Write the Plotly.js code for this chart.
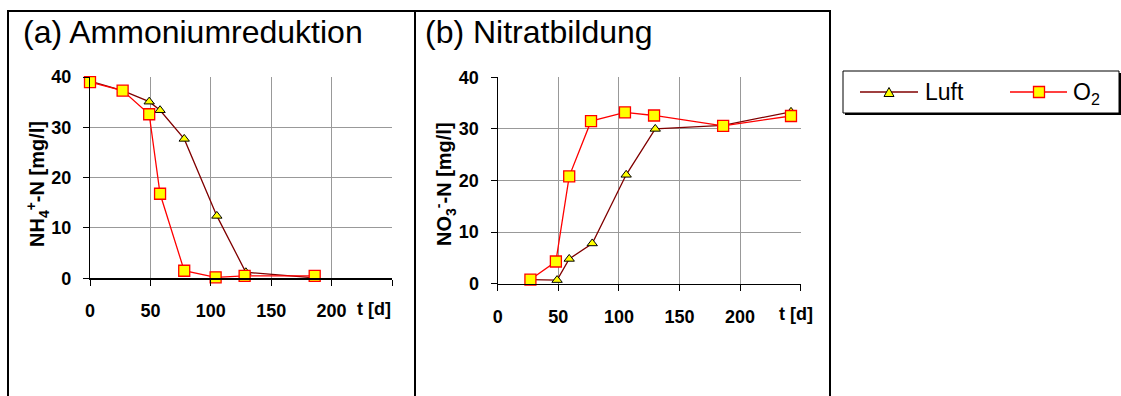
<!DOCTYPE html>
<html><head><meta charset="utf-8">
<script src="https://cdn.plot.ly/plotly-3.0.1.min.js"></script>
<style>html,body{margin:0;padding:0;background:#fff}#chart{width:1121px;height:396px}</style>
</head><body><div id="chart"></div>
<script>
// ---- data ----
const ammonLuftT = [0, 27, 49, 58, 78, 105, 129, 186];
const ammonLuftV = [39.2, 37.3, 35.1, 33.4, 27.7, 12.4, 1.2, 0.1];
const ammonO2T   = [0, 27, 49, 58, 78, 104, 128, 186];
const ammonO2V   = [39.0, 37.3, 32.6, 16.8, 1.5, 0.2, 0.5, 0.5];
const nitratLuftT = [27, 49, 59, 78, 106, 130, 186, 242];
const nitratLuftV = [0.8, 0.7, 4.8, 7.8, 21.1, 30.0, 30.7, 33.3];
const nitratO2T   = [27, 48, 59, 77, 105, 129, 186, 242];
const nitratO2V   = [0.8, 4.3, 20.8, 31.5, 33.2, 32.6, 30.6, 32.5];
const xTickVals = [0, 50, 100, 150, 200, 250];
const xTickText = ['0', '50', '100', '150', '200', ' '];
const yTickVals = [0, 10, 20, 30, 40];
const seriesNames = ['Luft', 'O<sub>2</sub>'];
const panelTitles = ['(a) Ammoniumreduktion', '(b) Nitratbildung'];
const yTitles = ['NH<sub>4</sub><sup>+</sup>-N [mg/l]', 'NO<sub>3</sub><sup>-</sup>-N [mg/l]'];
const xUnit = 't [d]';

// ---- helpers ----
const W = 1121, H = 396;
const px = x => x / W;
const py = y => 1 - y / H;
const FONT = 'Liberation Sans, Arial, sans-serif';

const luftStyle = {
  mode: 'lines+markers', cliponaxis: false, showlegend: false,
  line: {color: '#800000', width: 1.3},
  marker: {symbol: 'triangle-up', size: 9, color: '#FFFF00', line: {color: '#000000', width: 1}}
};
const o2Style = {
  mode: 'lines+markers', cliponaxis: false, showlegend: false,
  line: {color: '#FF0000', width: 1.3},
  marker: {symbol: 'square', size: 11, color: '#FFFF00', line: {color: '#FF0000', width: 1.3}}
};

const traces = [
  Object.assign({x: ammonLuftT, y: ammonLuftV, name: seriesNames[0], xaxis: 'x', yaxis: 'y'}, luftStyle),
  Object.assign({x: ammonO2T, y: ammonO2V, name: seriesNames[1], xaxis: 'x', yaxis: 'y'}, o2Style),
  Object.assign({x: nitratLuftT, y: nitratLuftV, name: seriesNames[0], xaxis: 'x2', yaxis: 'y2'}, luftStyle),
  Object.assign({x: nitratO2T, y: nitratO2V, name: seriesNames[1], xaxis: 'x2', yaxis: 'y2'}, o2Style)
];

const tickFont = {family: FONT, size: 18, color: '#000', weight: 'bold'};
function xAx(domain, anchor) {
  return {domain, anchor, range: [0, 250], tickvals: xTickVals, ticktext: xTickText,
    showgrid: true, gridcolor: '#999999', gridwidth: 1, zeroline: false,
    showline: true, linecolor: '#000', linewidth: 1.2,
    ticks: 'outside', ticklen: 6, tickcolor: '#000', tickwidth: 1,
    ticklabelstandoff: 10, tickfont: tickFont, fixedrange: true};
}
function yAx(domain, anchor) {
  return {domain, anchor, range: [0, 40], tickvals: yTickVals,
    showgrid: true, gridcolor: '#999999', gridwidth: 1, zeroline: false,
    showline: true, linecolor: '#000', linewidth: 1.2,
    ticks: 'outside', ticklen: 6, tickcolor: '#000', tickwidth: 1,
    ticklabelstandoff: 8, tickfont: tickFont, fixedrange: true};
}

const lineShape = (x0, y0, x1, y1, w, c) => ({type: 'line', xref: 'paper', yref: 'paper',
  x0: px(x0), y0: py(y0), x1: px(x1), y1: py(y1), line: {color: c || '#000', width: w || 2}});

const shapes = [
  lineShape(7, 11, 831, 11),
  lineShape(8, 11, 8, 396),
  lineShape(415, 11, 415, 396),
  lineShape(830, 11, 830, 396),
  // legend box with shadow
  {type: 'rect', xref: 'paper', yref: 'paper', x0: px(845), y0: py(115), x1: px(1121), y1: py(73),
   fillcolor: '#000', line: {width: 0}},
  {type: 'rect', xref: 'paper', yref: 'paper', x0: px(843), y0: py(113), x1: px(1119), y1: py(71),
   fillcolor: '#fff', line: {color: '#000', width: 1}},
  lineShape(860, 92, 918, 92, 1.3, '#800000'),
  {type: 'path', xref: 'paper', yref: 'paper',
   path: `M${px(884)},${py(96.5)} L${px(894)},${py(96.5)} L${px(889)},${py(87.5)} Z`,
   fillcolor: '#FFFF00', line: {color: '#000', width: 1}},
  lineShape(1010, 92, 1067, 92, 1.3, '#FF0000'),
  {type: 'rect', xref: 'paper', yref: 'paper', x0: px(1033.5), y0: py(97.5), x1: px(1044.5), y1: py(86.5),
   fillcolor: '#FFFF00', line: {color: '#FF0000', width: 1.3}}
];

const ann = (text, x, y, o) => Object.assign({text, xref: 'paper', yref: 'paper', x: px(x), y: py(y),
  showarrow: false, font: {family: FONT, size: 18, color: '#000', weight: 'bold'}}, o || {});

const annotations = [
  ann(panelTitles[0], 21, 32, {xanchor: 'left', yanchor: 'middle', font: {family: FONT, size: 32, color: '#000'}}),
  ann(panelTitles[1], 423, 32, {xanchor: 'left', yanchor: 'middle', font: {family: FONT, size: 32, color: '#000'}}),
  ann(yTitles[0], 37, 184, {xanchor: 'center', yanchor: 'middle', textangle: -90,
    font: {family: FONT, size: 20, color: '#000', weight: 'bold'}}),
  ann(yTitles[1], 444, 184, {xanchor: 'center', yanchor: 'middle', textangle: -90,
    font: {family: FONT, size: 20, color: '#000', weight: 'bold'}}),
  ann(xUnit, 393, 309, {xanchor: 'right', yanchor: 'middle'}),
  ann(xUnit, 815, 314, {xanchor: 'right', yanchor: 'middle'}),
  ann(seriesNames[0], 923, 92, {xanchor: 'left', yanchor: 'middle', font: {family: FONT, size: 23, color: '#000'}}),
  ann(seriesNames[1], 1071, 93, {xanchor: 'left', yanchor: 'middle', font: {family: FONT, size: 23, color: '#000'}})
];

const layout = {
  width: W, height: H, margin: {l: 0, r: 0, t: 0, b: 0},
  paper_bgcolor: '#fff', plot_bgcolor: '#fff', showlegend: false,
  xaxis: xAx([px(90), px(392)], 'y'),
  yaxis: yAx([py(278.3), py(77)], 'x'),
  xaxis2: xAx([px(497.7), px(800.7)], 'y2'),
  yaxis2: yAx([py(283.7), py(77.3)], 'x2'),
  shapes, annotations
};

Plotly.newPlot('chart', traces, layout, {displayModeBar: false, staticPlot: true});
</script></body></html>
